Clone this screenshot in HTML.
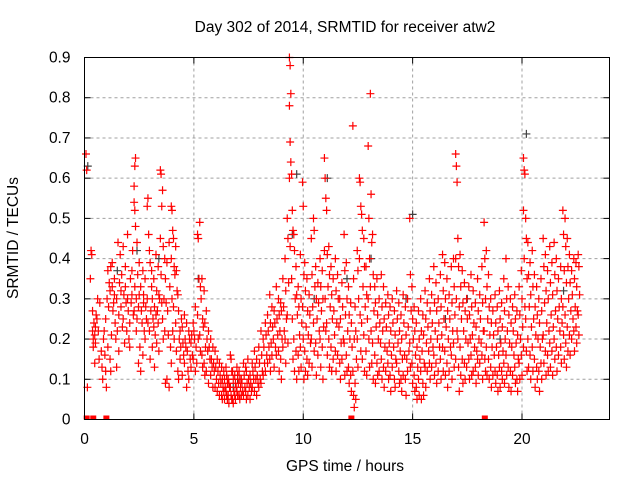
<!DOCTYPE html>
<html><head><meta charset="utf-8"><style>
body{margin:0;background:#fff}
svg text{font-family:"Liberation Sans",sans-serif;fill:#000}
</style></head><body>
<svg id="chart" width="640" height="480" viewBox="0 0 640 480" xmlns="http://www.w3.org/2000/svg">
<rect width="640" height="480" fill="#fff"/>
<g id="grid"></g>
<g id="ticks"></g>
<g id="pts"></g>
<rect x="84.5" y="57.5" width="525" height="362" fill="none" stroke="#000" stroke-width="1"/>
<text x="345" y="32" text-anchor="middle" font-size="15.5">Day 302 of 2014, SRMTID for receiver atw2</text>
<text x="345" y="471" text-anchor="middle" font-size="15.5">GPS time / hours</text>
<text transform="translate(18,238) rotate(-90)" text-anchor="middle" font-size="15.5">SRMTID / TECUs</text>
</svg>
<script>
const xTicks=[0,5,10,15,20];
const yTicks=[0,0.1,0.2,0.3,0.4,0.5,0.6,0.7,0.8,0.9];
const yTickLabels=["0","0.1","0.2","0.3","0.4","0.5","0.6","0.7","0.8","0.9"];
const redHours=[0.1,0.3,0.4,0.5,0.6,0.7,0.8,0.9,1.0,1.1,1.2,1.3,1.4,1.5,1.6,1.7,1.8,1.9,2.0,2.1,2.2,2.3,2.4,2.5,2.6,2.7,2.8,2.9,3.0,3.1,3.2,3.3,3.4,3.5,3.6,3.7,3.8,3.9,4.0,4.1,4.2,4.3,4.4,4.5,4.6,4.7,4.8,4.9,5.0,5.1,5.2,5.3,5.4,5.5,5.6,5.7,5.8,5.9,6.0,6.1,6.2,6.3,6.4,6.5,6.6,6.7,6.8,6.9,7.0,7.1,7.2,7.3,7.4,7.5,7.6,7.7,7.8,7.9,8.0,8.1,8.2,8.3,8.4,8.5,8.6,8.7,8.8,8.9,9.0,9.1,9.2,9.3,9.4,9.5,9.6,9.7,9.8,9.9,10.0,10.1,10.2,10.3,10.4,10.5,10.6,10.7,10.8,10.9,11.0,11.1,11.2,11.3,11.4,11.5,11.6,11.7,11.8,11.9,12.0,12.1,12.2,12.3,12.4,12.5,12.6,12.7,12.8,12.9,13.0,13.1,13.2,13.3,13.4,13.5,13.6,13.7,13.8,13.9,14.0,14.1,14.2,14.3,14.4,14.5,14.6,14.7,14.8,14.9,15.0,15.1,15.2,15.3,15.4,15.5,15.6,15.7,15.8,15.9,16.0,16.1,16.2,16.3,16.4,16.5,16.6,16.7,16.8,16.9,17.0,17.1,17.2,17.3,17.4,17.5,17.6,17.7,17.8,17.9,18.0,18.1,18.2,18.3,18.4,18.5,18.6,18.7,18.8,18.9,19.0,19.1,19.2,19.3,19.4,19.5,19.6,19.7,19.8,19.9,20.0,20.1,20.2,20.3,20.4,20.5,20.6,20.7,20.8,20.9,21.0,21.1,21.2,21.3,21.4,21.5,21.6,21.7,21.8,21.9,22.0,22.1,22.2,22.3,22.4,22.5,22.6];
const redValues=[[.66,.62,.08],[.35,.42,.41],[.22,.18,.24,.27,.2],[.21,.23,.26,.14,.19],[.25,.3,.22],[.15,.29],[.17,.13,.1],[.2,.22,.16],[.12,.08,.3,.25],[.18,.28,.34,.37],[.32,.38,.21,.15,.12],[.39,.27,.29,.33],[.31,.24,.2,.35],[.3,.22,.44,.13],[.26,.34,.41,.17],[.28,.36,.23,.32],[.25,.31,.19,.43],[.33,.29,.22,.38],[.3,.27,.2,.46],[.24,.35,.29,.18],[.31,.42,.26,.37],[.58,.63,.65,.54,.52,.48,.27,.33],[.3,.44,.36,.22,.25],[.28,.39,.18,.14,.31],[.33,.27,.24,.12],[.37,.29,.22,.16,.31],[.35,.28,.25,.2],[.53,.55,.46,.3,.24],[.42,.39,.27,.22,.15],[.37,.3,.25,.33,.18],[.35,.28,.21,.23,.13],[.41,.32,.27,.26,.19],[.38,.31,.3,.24,.17],[.62,.61,.53,.45,.36,.29],[.57,.43,.3,.25,.2],[.4,.35,.29,.22,.09],[.39,.27,.21,.1],[.44,.33,.18,.08],[.53,.52,.47,.4,.3,.22,.14],[.45,.38,.36,.28,.2],[.43,.37,.32,.24,.17],[.31,.27,.2,.12,.1],[.22,.18,.25,.15],[.23,.19,.16,.11],[.26,.2,.18,.14],[.24,.17,.12,.08],[.22,.2,.15,.1],[.19,.21,.16,.13],[.24,.22,.2,.15],[.28,.18,.14,.12],[.46,.45,.35,.26,.2],[.49,.33,.3,.21,.17],[.35,.25,.23,.16,.13],[.32,.24,.18,.14,.11],[.27,.2,.17,.12],[.22,.18,.15,.09],[.2,.15,.13,.11],[.18,.14,.12,.08],[.17,.13,.1,.08],[.15,.12,.09,.07],[.14,.11,.09,.06],[.13,.1,.08,.06,.05],[.12,.1,.08,.07,.05],[.13,.11,.09,.07,.06,.05],[.1,.09,.08,.06,.04],[.16,.15,.12,.08,.06,.05],[.12,.1,.07,.05,.04],[.11,.09,.08,.06,.05],[.13,.11,.09,.07,.06],[.12,.1,.08,.06,.05],[.1,.09,.07,.06],[.14,.11,.08,.06],[.13,.12,.09,.07,.05],[.15,.1,.08,.06],[.11,.09,.07,.05],[.14,.12,.1,.08],[.17,.13,.1,.07],[.15,.11,.09,.06],[.18,.14,.1,.08],[.22,.16,.12,.09],[.2,.18,.14,.11],[.24,.21,.16,.12],[.26,.22,.18,.14],[.31,.24,.19,.15,.12],[.28,.23,.2,.16],[.27,.24,.18,.13],[.33,.25,.21,.16],[.3,.26,.22,.17,.12],[.29,.27,.2,.15,.1],[.35,.28,.22,.18],[.4,.32,.25,.2,.14],[.5,.45,.34,.26,.19],[.9,.88,.81,.78,.69,.64,.6,.43],[.61,.52,.47,.35,.25,.15],[.46,.42,.3,.2,.12],[.38,.31,.26,.17,.1],[.33,.28,.21,.16,.12],[.41,.3,.24,.18,.13],[.59,.53,.36,.28,.2,.1],[.39,.32,.23,.17,.12],[.35,.27,.21,.15,.11],[.31,.26,.19,.14],[.45,.36,.28,.2,.13],[.5,.47,.33,.24,.17],[.38,.3,.25,.19,.11],[.34,.29,.22,.16],[.4,.33,.27,.2,.13],[.37,.3,.23,.18,.1],[.65,.6,.55,.42,.3,.22],[.52,.41,.33,.24,.16],[.43,.36,.28,.2,.13],[.38,.31,.25,.18,.12],[.35,.27,.21,.15],[.4,.32,.24,.17,.12],[.36,.3,.23,.16],[.3,.25,.19,.14,.1],[.34,.28,.2,.15],[.46,.37,.26,.19,.11],[.39,.3,.22,.16,.12],[.33,.26,.2,.13,.09],[.29,.24,.18,.11,.07],[.73,.35,.2,.12,.06,.03],[.28,.22,.15,.09,.05],[.42,.37,.3,.2,.13],[.6,.59,.53,.4,.26,.17],[.51,.47,.33,.24,.15],[.45,.38,.28,.21,.12],[.38,.31,.25,.17,.11],[.68,.5,.4,.3,.2,.13],[.81,.56,.44,.33,.22,.14],[.46,.36,.27,.19,.1],[.33,.29,.23,.16,.09],[.35,.26,.2,.14,.11],[.3,.24,.19,.12],[.36,.28,.22,.15,.1],[.33,.25,.18,.13,.08],[.29,.23,.17,.12],[.31,.26,.19,.14,.1],[.28,.22,.16,.11,.07],[.3,.24,.18,.13],[.27,.21,.15,.1,.08],[.32,.25,.19,.14],[.29,.22,.17,.12,.09],[.26,.2,.15,.1,.07],[.31,.24,.16,.11],[.28,.21,.15,.1,.06],[.3,.23,.17,.12],[.5,.36,.27,.19,.13],[.33,.25,.2,.14,.09],[.28,.22,.16,.11,.07],[.24,.18,.13,.08,.05],[.27,.2,.15,.1,.06],[.3,.22,.17,.12,.05],[.26,.21,.14,.09,.06],[.32,.25,.19,.13,.08],[.29,.23,.17,.12],[.35,.27,.2,.14,.1],[.31,.24,.18,.13],[.38,.29,.22,.16,.11],[.34,.27,.2,.14,.09],[.3,.24,.18,.12],[.36,.28,.21,.15,.1],[.41,.32,.25,.18,.12],[.39,.3,.23,.17,.11],[.35,.27,.2,.14,.08],[.31,.25,.18,.12],[.38,.29,.22,.16,.1],[.4,.33,.26,.19,.13],[.66,.63,.59,.4,.3,.22,.15],[.45,.38,.28,.2,.13,.07],[.41,.33,.25,.18,.11],[.37,.29,.22,.15,.09],[.34,.27,.2,.14,.1],[.3,.25,.19,.13],[.33,.26,.2,.15,.1],[.36,.28,.21,.16,.11],[.32,.24,.18,.12],[.29,.23,.17,.13,.09],[.35,.27,.2,.15,.11],[.31,.25,.19,.14],[.38,.29,.22,.16,.1],[.49,.4,.3,.22,.15,.12],[.42,.33,.25,.18,.11],[.36,.28,.21,.15,.1],[.3,.24,.18,.13,.08],[.27,.21,.16,.11],[.31,.24,.18,.12,.09],[.28,.22,.16,.11,.07],[.32,.25,.19,.13,.08],[.29,.23,.17,.12,.1],[.35,.27,.2,.14,.09],[.4,.3,.22,.16,.11],[.33,.26,.19,.13,.08],[.3,.24,.18,.12,.07],[.28,.22,.16,.11],[.31,.25,.19,.13,.09],[.27,.21,.15,.1,.07],[.33,.26,.2,.14,.1],[.37,.3,.23,.16,.11],[.65,.62,.61,.52,.4,.28,.18],[.5,.45,.35,.25,.17,.12],[.44,.36,.28,.2,.13],[.39,.31,.23,.16,.1],[.42,.33,.25,.18,.12],[.36,.28,.21,.15,.08],[.33,.26,.2,.13,.1],[.3,.24,.18,.12,.07],[.35,.27,.2,.14,.1],[.45,.38,.29,.21,.14],[.41,.32,.24,.17,.11],[.37,.3,.22,.16,.12],[.43,.34,.26,.19,.13],[.39,.31,.23,.17,.11],[.44,.36,.27,.2,.15],[.4,.32,.25,.18,.12],[.35,.28,.22,.16],[.38,.3,.24,.18,.14],[.52,.46,.37,.28,.21,.15],[.5,.43,.34,.26,.19,.13],[.45,.38,.3,.23,.17],[.41,.34,.27,.21,.16],[.37,.31,.25,.2],[.4,.35,.28,.22,.17],[.39,.33,.27,.23,.19],[.41,.38,.31,.26,.21]];
const darkHours=[0.15,1.5,2.4,3.4,5.2,6.8,7.0,9.5,9.7,10.5,11.1,12.0,13.1,14.7,15.0,16.5,17.5,19.0,20.2,21.9];
const darkValues=[0.63,0.37,0.42,0.4,0.35,0.08,0.1,0.46,0.61,0.3,0.6,0.35,0.4,0.3,0.51,0.25,0.3,0.2,0.71,0.32];
const zeroHours=[0.1,0.4,1.0,12.2,18.3];

const NS="http://www.w3.org/2000/svg";
const X0=84.5,X1=609.5,Y0=419.5,Y1=57.5,XMAX=24,YMAX=0.9;
function xs(h){return X0+h/XMAX*(X1-X0);}
function ys(v){return Y0-v/YMAX*(Y0-Y1);}
function mk(tag,attrs,parent){const e=document.createElementNS(NS,tag);for(const k in attrs)e.setAttribute(k,attrs[k]);parent.appendChild(e);return e;}
const grid=document.getElementById('grid'),ticks=document.getElementById('ticks'),pts=document.getElementById('pts');
yTicks.forEach((v,i)=>{
  const y=ys(v);
  if(v>0){const g=mk('line',{x1:X0,x2:X1,y1:y,y2:y,stroke:'#a0a0a0','stroke-dasharray':'3,3'},grid);
  
  }
  mk('line',{x1:X0,x2:X0+6,y1:y,y2:y,stroke:'#000'},ticks);
  mk('line',{x1:X1-6,x2:X1,y1:y,y2:y,stroke:'#000'},ticks);
  const t=mk('text',{x:X0-14,y:y+5,'text-anchor':'end','font-size':'15.5'},ticks);
  t.textContent=yTickLabels[i];
  
  
});
xTicks.forEach(h=>{
  const x=xs(h);
  if(h>0){const g=mk('line',{x1:x,x2:x,y1:Y0,y2:Y1,stroke:'#a0a0a0','stroke-dasharray':'3,3'},grid);
  
  }
  mk('line',{x1:x,x2:x,y1:Y0,y2:Y0-6,stroke:'#000'},ticks);
  mk('line',{x1:x,x2:x,y1:Y1,y2:Y1+6,stroke:'#000'},ticks);
  const t=mk('text',{x:x,y:444,'text-anchor':'middle','font-size':'15.5'},ticks);
  t.textContent=String(h);
  
  
});
function cross(h,v,dx,color,name){
  const x=xs(h)+dx,y=ys(v);
  const p=mk('path',{d:`M${x-4},${y}H${x+4}M${x},${y-4}V${y+4}`,stroke:color,'stroke-width':'1.2',fill:'none'},pts);
  
  
}
darkHours.forEach((h,i)=>cross(h,darkValues[i],0,'#404040','dark-point'));
redHours.forEach((h,i)=>redValues[i].forEach((v,j)=>cross(h,v,((j%3)-1)*0.7,'#ff0000','srmtid-point')));
zeroHours.forEach(h=>{
  const r=mk('rect',{x:xs(h)-3,y:Y0-4,width:6,height:4,fill:'#ff0000'},pts);
  
  
});
</script>
</body></html>
